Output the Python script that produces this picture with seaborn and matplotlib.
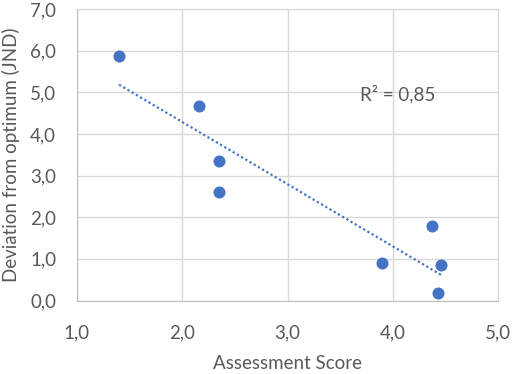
import numpy as np
import pandas as pd
import matplotlib
matplotlib.use("Agg")
import matplotlib.pyplot as plt
import seaborn as sns
from matplotlib.ticker import FuncFormatter, MultipleLocator

# valeurs
assessment_score = [1.40, 2.16, 2.35, 2.35, 3.895, 4.376, 4.46, 4.43]
deviation_jnd = [5.88, 4.68, 3.34, 2.60, 0.90, 1.79, 0.86, 0.17]

df = pd.DataFrame({"score": assessment_score, "dev": deviation_jnd})

sns.set_style("white")
plt.rcParams["font.family"] = ["Lato", "DejaVu Sans"]

grey_txt = "#595959"
blue = "#4472C4"
fs = 13.5

fig = plt.figure(figsize=(5.13, 3.74), dpi=100)
ax = fig.add_axes([0.150, 0.1965, 0.821, 0.7795])

sns.regplot(data=df, x="score", y="dev", ax=ax, ci=None, color=blue,
            scatter_kws={"s": 75, "alpha": 1, "linewidths": 0, "zorder": 3},
            line_kws={"linestyle": (0, (1, 1.2)), "linewidth": 1.6, "zorder": 2})

# R² de la droite de tendance
r2 = np.corrcoef(df["score"], df["dev"])[0, 1] ** 2
ax.text(3.69, 4.80, f"R² = {r2:.2f}".replace(".", ","), fontsize=fs,
        color=grey_txt, va="baseline")

ax.set_xlim(1, 5)
ax.set_ylim(0, 7)
ax.xaxis.set_major_locator(MultipleLocator(1))
ax.yaxis.set_major_locator(MultipleLocator(1))
fmt = FuncFormatter(lambda v, p: f"{v:.1f}".replace(".", ","))
ax.xaxis.set_major_formatter(fmt)
ax.yaxis.set_major_formatter(fmt)
ax.grid(True, color="#D9D9D9", linewidth=1)
ax.set_axisbelow(True)
for s in ["top", "right"]:
    ax.spines[s].set_color("#D9D9D9")
for s in ["left", "bottom"]:
    ax.spines[s].set_color("#BFBFBF")
ax.tick_params(axis="both", length=0, labelsize=fs, labelcolor=grey_txt)
ax.tick_params(axis="x", pad=17)
ax.tick_params(axis="y", pad=15)

ax.set_xlabel("Assessment Score", fontsize=fs, color=grey_txt, labelpad=10)
ax.set_ylabel("Deviation from optimum (JND)", fontsize=fs, color=grey_txt, labelpad=7)

fig.savefig("out.png", dpi=100)
